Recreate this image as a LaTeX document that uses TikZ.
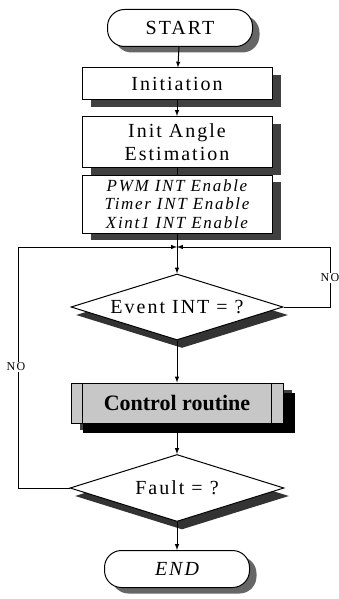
\documentclass[tikz,border=0pt]{standalone}
\usepackage{fontspec}
\setmainfont{Liberation Serif}
\newfontfamily\chartfont{Liberation Serif}[LetterSpace=10]
\usepackage{tikz}
\usetikzlibrary{positioning}
\usetikzlibrary{calc}
\usetikzlibrary{shapes.geometric}
\usetikzlibrary{shadows}
\usetikzlibrary{arrows}

\tikzset{
  termnode/.style={draw, fill=white, line width=1pt, rounded corners=17pt,
    minimum width=145pt, minimum height=37pt, inner sep=0pt,
    font=\chartfont\fontsize{20}{22}\selectfont,
    drop shadow={shadow xshift=7pt, shadow yshift=-6pt, fill=black!60, opacity=1}},
  procbox/.style={draw, fill=white, line width=1pt, minimum width=190pt,
    inner sep=0pt, align=center, font=\chartfont\fontsize{20}{23}\selectfont,
    drop shadow={shadow xshift=9pt, shadow yshift=-7pt, fill=black!75, opacity=1}},
  decide/.style={draw, fill=white, diamond, aspect=3.2, line width=1pt,
    minimum width=212pt, minimum height=66pt, inner sep=0pt,
    font=\chartfont\fontsize{20}{22}\selectfont,
    drop shadow={shadow xshift=5pt, shadow yshift=-8pt, fill=black!80, opacity=1}},
  nolabel/.style={fill=white, inner sep=1pt, font=\chartfont\fontsize{12}{14}\selectfont},
  flowline/.style={line width=1pt, -latex},
}

\begin{document}
\begin{tikzpicture}[x=1pt,y=-1pt]
\useasboundingbox (0,0) rectangle (339,599);

% main column
\node [termnode] (start) at (180,28) {START};
\node [procbox, minimum height=32pt] (init) at (177,84) {Initiation};
\node [procbox, minimum height=51pt] (angle) at (177,142) {Init Angle\\Estimation};
\node [procbox, minimum height=58pt, font=\chartfont\itshape\fontsize{17}{18.5}\selectfont] (pwm) at (177,204)
  {PWM INT Enable\\Timer INT Enable\\Xint1 INT Enable};
\coordinate (join) at (177,247);
\node [decide] (event) at (177,307) {Event INT = ?};
\node [procbox, minimum width=212pt, minimum height=40pt, fill=black!22,
  font=\bfseries\fontsize{22}{24}\selectfont,
  drop shadow={shadow xshift=12pt, shadow yshift=-10pt, fill=black, opacity=1}] (ctrl) at (177,403) {Control routine};
\draw [line width=1pt] ([xshift=12pt]ctrl.north west) -- ([xshift=12pt]ctrl.south west);
\draw [line width=1pt] ([xshift=-12pt]ctrl.north east) -- ([xshift=-12pt]ctrl.south east);
\node [decide, minimum width=214pt, minimum height=67pt] (fault) at (177,488) {Fault = ?};
\node [termnode, font=\chartfont\itshape\fontsize{20}{22}\selectfont] (end) at (177,569) {END};

% straight flow
\draw [flowline] (start) -- (init);
\draw [flowline] (init) -- (angle);
\draw [line width=1pt] (angle) -- (pwm);
\draw [line width=1pt] (pwm) -- (join);
\draw [flowline] (join) -- (event);
\draw [flowline] (event) -- (ctrl);
\draw [flowline] (ctrl) -- (fault);
\draw [flowline] (fault) -- (end);

% loops back
\coordinate (rdown) at (330,307);
\coordinate (rup) at (330,247);
\coordinate (ldown) at (18,488);
\coordinate (lup) at (18,247);
\draw [flowline] (event.east) -- (rdown) -- (rup) -- (join);
\draw [flowline] (fault.west) -- (ldown) -- (lup) -- (join);
\node [nolabel] (noright) at (330,278) {NO};
\node [nolabel] (noleft) at (16,367) {NO};
\end{tikzpicture}
\end{document}
